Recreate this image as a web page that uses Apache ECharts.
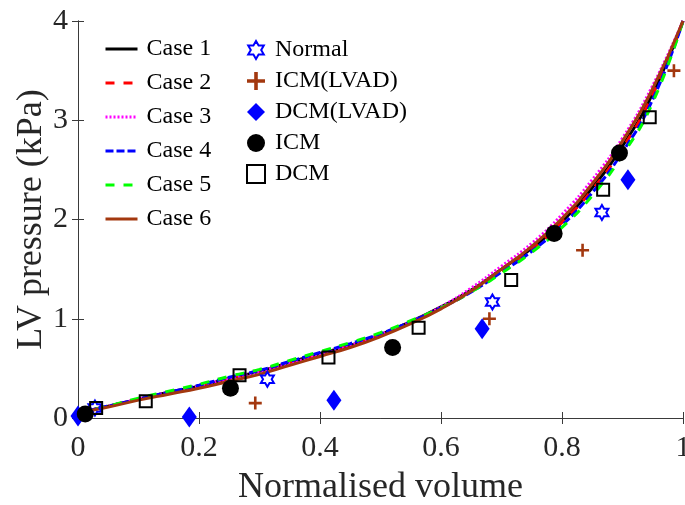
<!DOCTYPE html>
<html>
<head>
<meta charset="utf-8">
<script src="https://cdn.jsdelivr.net/npm/echarts@6/dist/echarts.min.js"></script>
<style>
  html, body { margin: 0; padding: 0; background: #fff; }
  #ec { width: 685px; height: 505px; }
</style>
</head>
<body>
<div id="ec"></div>
<script>
// normalised volume sample points for the model curves
var volume = [0, 0.05, 0.1, 0.15, 0.2, 0.25, 0.3, 0.35, 0.4, 0.45, 0.5,
  0.55, 0.6, 0.65, 0.7, 0.75, 0.8, 0.85, 0.9, 0.95, 1];

var case1 = [0.05, 0.12, 0.19, 0.26, 0.32, 0.40, 0.47, 0.56, 0.65, 0.73, 0.84, 0.97, 1.12, 1.29, 1.50, 1.71, 1.98, 2.32, 2.74, 3.27, 4.00];
var case2 = [0.05, 0.12, 0.19, 0.26, 0.33, 0.40, 0.48, 0.56, 0.65, 0.74, 0.84, 0.97, 1.11, 1.28, 1.48, 1.70, 1.97, 2.30, 2.72, 3.26, 4.00];
var case3 = [0.05, 0.12, 0.19, 0.26, 0.32, 0.40, 0.47, 0.55, 0.64, 0.73, 0.84, 0.97, 1.12, 1.31, 1.53, 1.76, 2.05, 2.40, 2.82, 3.35, 4.00];
var case4 = [0.05, 0.12, 0.19, 0.26, 0.33, 0.41, 0.48, 0.57, 0.66, 0.75, 0.85, 0.97, 1.11, 1.27, 1.47, 1.68, 1.94, 2.27, 2.68, 3.21, 4.00];
var case5 = [0.05, 0.12, 0.20, 0.27, 0.34, 0.42, 0.49, 0.58, 0.67, 0.76, 0.86, 0.98, 1.11, 1.27, 1.46, 1.67, 1.92, 2.24, 2.65, 3.18, 4.00];
var case6 = [0.05, 0.11, 0.18, 0.24, 0.30, 0.37, 0.44, 0.53, 0.62, 0.71, 0.82, 0.95, 1.10, 1.28, 1.50, 1.73, 2.01, 2.36, 2.79, 3.32, 4.00];

// measured data
var normalVol = [0.028, 0.313, 0.685, 0.866];
var normalP = [0.10, 0.39, 1.17, 2.07];
var icmLvadVol = [0.293, 0.680, 0.834, 0.985];
var icmLvadP = [0.15, 1.00, 1.69, 3.50];
var dcmLvadVol = [0.0, 0.184, 0.423, 0.668, 0.909];
var dcmLvadP = [0.02, 0.01, 0.18, 0.90, 2.40];
var icmVol = [0.012, 0.252, 0.520, 0.787, 0.895];
var icmP = [0.04, 0.30, 0.71, 1.86, 2.67];
var dcmVol = [0.030, 0.112, 0.267, 0.414, 0.563, 0.716, 0.868, 0.945];
var dcmP = [0.10, 0.17, 0.43, 0.61, 0.91, 1.39, 2.30, 3.03];

var xTicks = [0, 0.2, 0.4, 0.6, 0.8, 1];
var yTicks = [0, 1, 2, 3, 4];

function pairs(xs, ys) {
  return xs.map(function (x, i) { return [x, ys[i]]; });
}

// six-point star outline (MATLAB hexagram marker)
function hexagram() {
  var d = '';
  for (var k = 0; k < 12; k++) {
    var a = k * Math.PI / 6;
    var r = k % 2 === 0 ? 1 : 0.577;
    d += (k === 0 ? 'M' : 'L') + (r * Math.sin(a)).toFixed(3) + ',' + (-r * Math.cos(a)).toFixed(3);
  }
  return 'path://' + d + 'Z';
}
var plusPath = 'path://M4,0H6V4H10V6H6V10H4V6H0V4H4Z';

var font = "'Liberation Serif', 'Times New Roman', serif";
var axisColor = '#3a3a3a';
var textColor = '#262626';

var caseNames = ['Case 1', 'Case 2', 'Case 3', 'Case 4', 'Case 5', 'Case 6'];
var caseData = [case1, case2, case3, case4, case5, case6];
var caseColors = ['#000000', '#ff0000', '#ff00ff', '#0000ff', '#00ff00', '#a3380f'];
var caseDash = ['solid', [9, 9], [2, 2], [8, 3], [9, 9], 'solid'];

var series = caseNames.map(function (name, i) {
  return {
    name: name,
    type: 'line',
    smooth: true,
    symbol: 'none',
    data: pairs(volume, caseData[i]),
    lineStyle: { color: caseColors[i], width: 3, type: caseDash[i] },
    itemStyle: { color: caseColors[i] },
    z: 2
  };
});

series.push(
  {
    name: 'Normal', type: 'scatter', symbol: hexagram(), symbolKeepAspect: true, symbolSize: 15,
    data: pairs(normalVol, normalP),
    itemStyle: { color: 'rgba(0,0,0,0)', borderColor: '#0000ff', borderWidth: 2, opacity: 1 }, z: 3
  },
  {
    name: 'ICM(LVAD)', type: 'scatter', symbol: plusPath, symbolSize: 13,
    data: pairs(icmLvadVol, icmLvadP),
    itemStyle: { color: '#a3380f', opacity: 1 }, z: 3
  },
  {
    name: 'DCM(LVAD)', type: 'scatter', symbol: 'diamond', symbolSize: [15, 21],
    data: pairs(dcmLvadVol, dcmLvadP),
    itemStyle: { color: '#0000ff', opacity: 1 }, z: 3
  },
  {
    name: 'ICM', type: 'scatter', symbol: 'circle', symbolSize: 17,
    data: pairs(icmVol, icmP),
    itemStyle: { color: '#000000', opacity: 1 }, z: 3
  },
  {
    name: 'DCM', type: 'scatter', symbol: 'rect', symbolSize: 12,
    data: pairs(dcmVol, dcmP),
    itemStyle: { color: 'rgba(0,0,0,0)', borderColor: '#000000', borderWidth: 2, opacity: 1 }, z: 3
  }
);

var myChart = echarts.init(document.getElementById('ec'), null, { renderer: 'canvas' });

myChart.setOption({
  animation: false,
  backgroundColor: '#ffffff',
  grid: { left: 78, right: 2, top: 21, bottom: 87, outerBoundsMode: 'none', containLabel: false },
  legend: [
    {
      data: caseNames,
      orient: 'vertical',
      left: 104,
      top: 37,
      padding: 0,
      itemWidth: 32,
      itemHeight: 14,
      itemGap: 10,
      itemStyle: { opacity: 0 },
      lineStyle: { width: 3 },
      textStyle: { fontFamily: font, fontSize: 24, lineHeight: 24, color: '#000', padding: [0, 0, 0, 4] }
    },
    {
      data: ['Normal', 'ICM(LVAD)', 'DCM(LVAD)', 'ICM', 'DCM'],
      orient: 'vertical',
      left: 246,
      top: 38,
      padding: 0,
      itemWidth: 18,
      itemHeight: 18,
      itemGap: 7,
      textStyle: { fontFamily: font, fontSize: 24, lineHeight: 24, color: '#000', padding: [0, 0, 0, 5] }
    }
  ],
  xAxis: [
    {
      type: 'value',
      min: xTicks[0],
      max: xTicks[xTicks.length - 1],
      interval: 0.2,
      name: 'Normalised volume',
      nameLocation: 'middle',
      nameGap: 52,
      nameTextStyle: { fontFamily: font, fontSize: 36, color: textColor },
      axisLine: { show: true, lineStyle: { color: axisColor, width: 1 } },
      axisTick: { show: true, inside: true, length: 6, lineStyle: { color: axisColor } },
      axisLabel: { fontFamily: font, fontSize: 30, color: textColor, margin: 15 },
      splitLine: { show: false }
    },
    {
      type: 'value',
      position: 'top',
      min: xTicks[0],
      max: xTicks[xTicks.length - 1],
      interval: 0.2,
      axisLine: { show: true, lineStyle: { color: axisColor, width: 1 } },
      axisTick: { show: true, inside: true, length: 6, lineStyle: { color: axisColor } },
      axisLabel: { show: false },
      splitLine: { show: false }
    }
  ],
  yAxis: [
    {
      type: 'value',
      min: yTicks[0],
      max: yTicks[yTicks.length - 1],
      interval: 1,
      name: 'LV pressure (kPa)',
      nameLocation: 'middle',
      nameGap: 28,
      nameMoveOverlap: false,
      nameTextStyle: { fontFamily: font, fontSize: 36, color: textColor },
      axisLine: { show: true, lineStyle: { color: axisColor, width: 1 } },
      axisTick: { show: true, inside: true, length: 6, lineStyle: { color: axisColor } },
      axisLabel: { fontFamily: font, fontSize: 30, color: textColor, margin: 10 },
      splitLine: { show: false }
    },
    {
      type: 'value',
      position: 'right',
      min: yTicks[0],
      max: yTicks[yTicks.length - 1],
      interval: 1,
      axisLine: { show: true, lineStyle: { color: axisColor, width: 1 } },
      axisTick: { show: true, inside: true, length: 6, lineStyle: { color: axisColor } },
      axisLabel: { show: false },
      splitLine: { show: false }
    }
  ],
  series: series
});
</script>
</body>
</html>
